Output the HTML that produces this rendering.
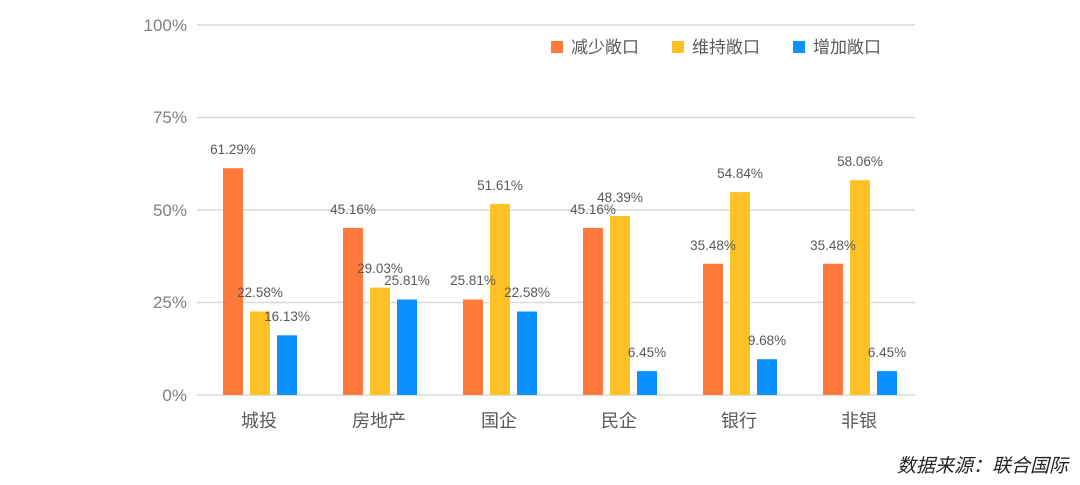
<!DOCTYPE html>
<html><head><meta charset="utf-8"><style>body{margin:0;background:#fff}svg{display:block}</style></head><body>
<svg width="1080" height="485" xmlns="http://www.w3.org/2000/svg" font-family="Liberation Sans, Noto Sans CJK SC, sans-serif">
<g stroke="#d9d9d9" stroke-width="1.5">
<line x1="197" x2="915" y1="25" y2="25"/><line x1="197" x2="915" y1="117.5" y2="117.5"/>
<line x1="197" x2="915" y1="210" y2="210"/><line x1="197" x2="915" y1="302.5" y2="302.5"/>
<line x1="197" x2="915" y1="395" y2="395"/></g>
<g fill="#7f7f7f" font-size="17" text-anchor="end">
<text x="187" y="31">100%</text><text x="187" y="123">75%</text><text x="187" y="216">50%</text><text x="187" y="308">25%</text><text x="187" y="401">0%</text></g>
<g>
<rect x="223" y="168.2" width="20" height="226.8" fill="#ff7a3a"/>
<rect x="250" y="311.5" width="20" height="83.5" fill="#ffc226"/>
<rect x="277" y="335.3" width="20" height="59.7" fill="#0a90ff"/>
<rect x="343" y="227.9" width="20" height="167.1" fill="#ff7a3a"/>
<rect x="370" y="287.6" width="20" height="107.4" fill="#ffc226"/>
<rect x="397" y="299.5" width="20" height="95.5" fill="#0a90ff"/>
<rect x="463" y="299.5" width="20" height="95.5" fill="#ff7a3a"/>
<rect x="490" y="204.0" width="20" height="191.0" fill="#ffc226"/>
<rect x="517" y="311.5" width="20" height="83.5" fill="#0a90ff"/>
<rect x="583" y="227.9" width="20" height="167.1" fill="#ff7a3a"/>
<rect x="610" y="216.0" width="20" height="179.0" fill="#ffc226"/>
<rect x="637" y="371.1" width="20" height="23.9" fill="#0a90ff"/>
<rect x="703" y="263.7" width="20" height="131.3" fill="#ff7a3a"/>
<rect x="730" y="192.1" width="20" height="202.9" fill="#ffc226"/>
<rect x="757" y="359.2" width="20" height="35.8" fill="#0a90ff"/>
<rect x="823" y="263.7" width="20" height="131.3" fill="#ff7a3a"/>
<rect x="850" y="180.2" width="20" height="214.8" fill="#ffc226"/>
<rect x="877" y="371.1" width="20" height="23.9" fill="#0a90ff"/>
</g>
<g font-size="13.5" fill="#595959" text-anchor="middle">
<text x="233" y="154">61.29%</text><text x="260" y="297">22.58%</text><text x="287" y="321">16.13%</text>
<text x="353" y="214">45.16%</text><text x="380" y="273">29.03%</text><text x="407" y="285">25.81%</text>
<text x="473" y="285">25.81%</text><text x="500" y="190">51.61%</text><text x="527" y="297">22.58%</text>
<text x="593" y="214">45.16%</text><text x="620" y="202">48.39%</text><text x="647" y="357">6.45%</text>
<text x="713" y="250">35.48%</text><text x="740" y="178">54.84%</text><text x="767" y="345">9.68%</text>
<text x="833" y="250">35.48%</text><text x="860" y="166">58.06%</text><text x="887" y="357">6.45%</text>
</g>
<g fill="#595959" font-size="18" text-anchor="middle">
<text x="259" y="427">城投</text><text x="379" y="427">房地产</text><text x="499" y="427">国企</text><text x="619" y="427">民企</text><text x="739" y="427">银行</text><text x="859" y="427">非银</text></g>
<rect x="551" y="41" width="12" height="12" fill="#ff7a3a"/><text x="571" y="53" font-size="17" fill="#595959">减少敞口</text>
<rect x="672" y="41" width="12" height="12" fill="#ffc226"/><text x="692" y="53" font-size="17" fill="#595959">维持敞口</text>
<rect x="793" y="41" width="12" height="12" fill="#0a90ff"/><text x="813" y="53" font-size="17" fill="#595959">增加敞口</text>
<text x="1068" y="472" text-anchor="end" font-size="19" font-style="italic" fill="#222">数据来源：联合国际</text>
</svg>
</body></html>
